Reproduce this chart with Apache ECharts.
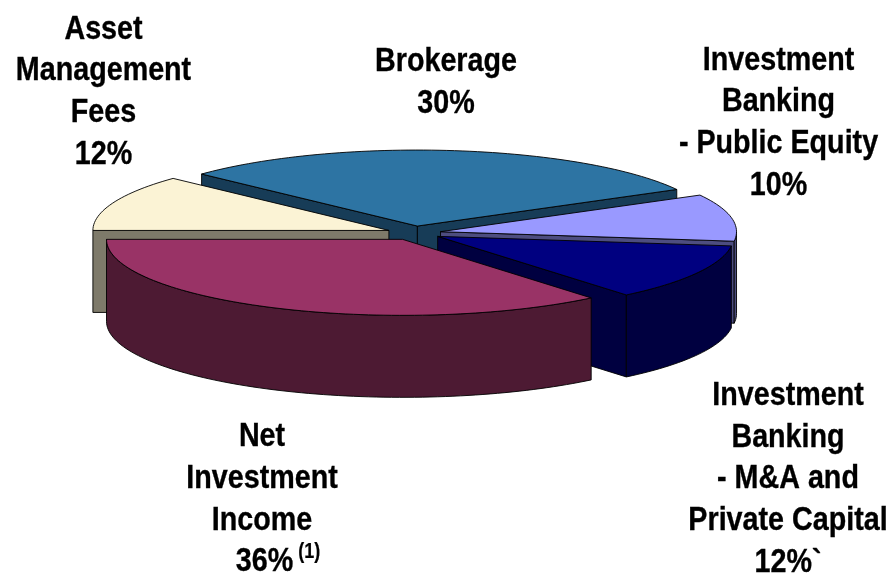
<!DOCTYPE html>
<html>
<head>
<meta charset="utf-8">
<style>html,body{margin:0;padding:0;background:#fff}#c{width:894px;height:574px}</style>
<script src="https://cdn.jsdelivr.net/npm/echarts@6/dist/echarts.min.js"></script>
</head>
<body>
<div id="c"></div>
<script>
// Data, in pie order (clockwise from the 9 o'clock position)
const categories = ['Asset Management Fees', 'Brokerage', 'Investment Banking - Public Equity', 'Investment Banking - M&A and Private Capital', 'Net Investment Income'];
const shares = [12, 30, 10, 12, 36];
const topColors = ['#FBF3D5', '#2D74A3', '#9999FF', '#000080', '#993366'];
const sideColors = ['#7E7A6A', '#173C57', '#4D4D80', '#000040', '#4D1A33'];
const drawOrder = [1, 0, 2, 3, 4];

// Label text
const labelLines = [
  ['Asset', 'Management', 'Fees', '12%'],
  ['Brokerage', '30%'],
  ['Investment', 'Banking', '- Public Equity', '10%'],
  ['Investment', 'Banking', '- M&A and', 'Private Capital', '12%`'],
  ['Net', 'Investment', 'Income', '\u00a0\u00a0\u00a0\u00a036%{sup| (1)}']
];
const labelCentres = [[103.5, 92], [446, 82.5], [778.5, 123], [788, 479], [262, 499.5]];

// Projection
const CX = 414, CY = 233, RX = 296, RY = 76, DEPTH = 82, EX = 27, EY = 7;
const FONT = '"Liberation Sans", Arial, sans-serif';
const TEXT_SCALE_Y = 1.18;
const total = shares.reduce((a, b) => a + b, 0);
const rad = d => d * Math.PI / 180;
let cum = 180;
const spans = shares.map(v => { const s = cum; cum += v / total * 360; return [s, cum]; });

function wedge(i) {
  const [s, e] = spans[i];
  const m = rad((s + e) / 2);
  const cx = CX + EX * Math.cos(m), cy = CY + EY * Math.sin(m);
  const pt = (t, dz) => [cx + RX * Math.cos(rad(t)), cy + RY * Math.sin(rad(t)) + dz];
  const arc = (a, b, dz) => {
    const n = Math.max(2, Math.ceil(Math.abs(b - a) / 1.5)), out = [];
    for (let k = 0; k <= n; k++) out.push(pt(a + (b - a) * k / n, dz));
    return out;
  };
  return { s, e, cx, cy, pt, arc };
}

function renderItem(params, api) {
  const i = api.value(1);
  const w = wedge(i);
  const style = f => ({ fill: f, stroke: '#000', lineWidth: 0.9, lineJoin: 'round' });
  const poly = (points, f) => ({ type: 'polygon', shape: { points }, style: style(f) });
  const children = [];
  // radial walls that face the viewer
  const walls = [];
  if (Math.cos(rad(w.s)) < 0) walls.push(w.s);
  if (Math.cos(rad(w.e)) > 0) walls.push(w.e);
  walls.forEach(t => {
    const p = w.pt(t, 0);
    children.push(poly([[w.cx, w.cy], p, [p[0], p[1] + DEPTH], [w.cx, w.cy + DEPTH]], sideColors[i]));
  });
  // outer rim, front half only
  const lo = Math.max(w.s, 360), hi = Math.min(w.e, 540);
  if (hi > lo) {
    children.push(poly(w.arc(lo, hi, 0).concat(w.arc(hi, lo, DEPTH)), sideColors[i]));
  }
  children.push(poly([[w.cx, w.cy]].concat(w.arc(w.s, w.e, 0)), topColors[i]));
  return { type: 'group', children };
}

const chart = echarts.init(document.getElementById('c'), null, { renderer: 'canvas' });
chart.setOption({
  animation: false,
  backgroundColor: '#fff',
  series: [{
    type: 'custom',
    coordinateSystem: 'none',
    silent: true,
    renderItem,
    data: drawOrder.map(i => ({ name: categories[i], value: [shares[i], i] }))
  }],
  graphic: labelLines.map((lines, i) => ({
    type: 'text',
    x: labelCentres[i][0],
    y: labelCentres[i][1],
    scaleY: TEXT_SCALE_Y,
    silent: true,
    style: {
      text: lines.join('\n'),
      fontFamily: FONT,
      fontWeight: 'bold',
      fontSize: 28.7,
      lineHeight: 41.7 / TEXT_SCALE_Y,
      fill: '#000',
      stroke: '#000',
      lineWidth: 0.3,
      align: 'center',
      verticalAlign: 'middle',
      rich: { sup: { fontSize: 18, fontWeight: 'bold', fontFamily: FONT, verticalAlign: 'top', lineHeight: 33, fill: '#000', stroke: '#000', lineWidth: 0.2 } }
    }
  }))
});
</script>
</body>
</html>
